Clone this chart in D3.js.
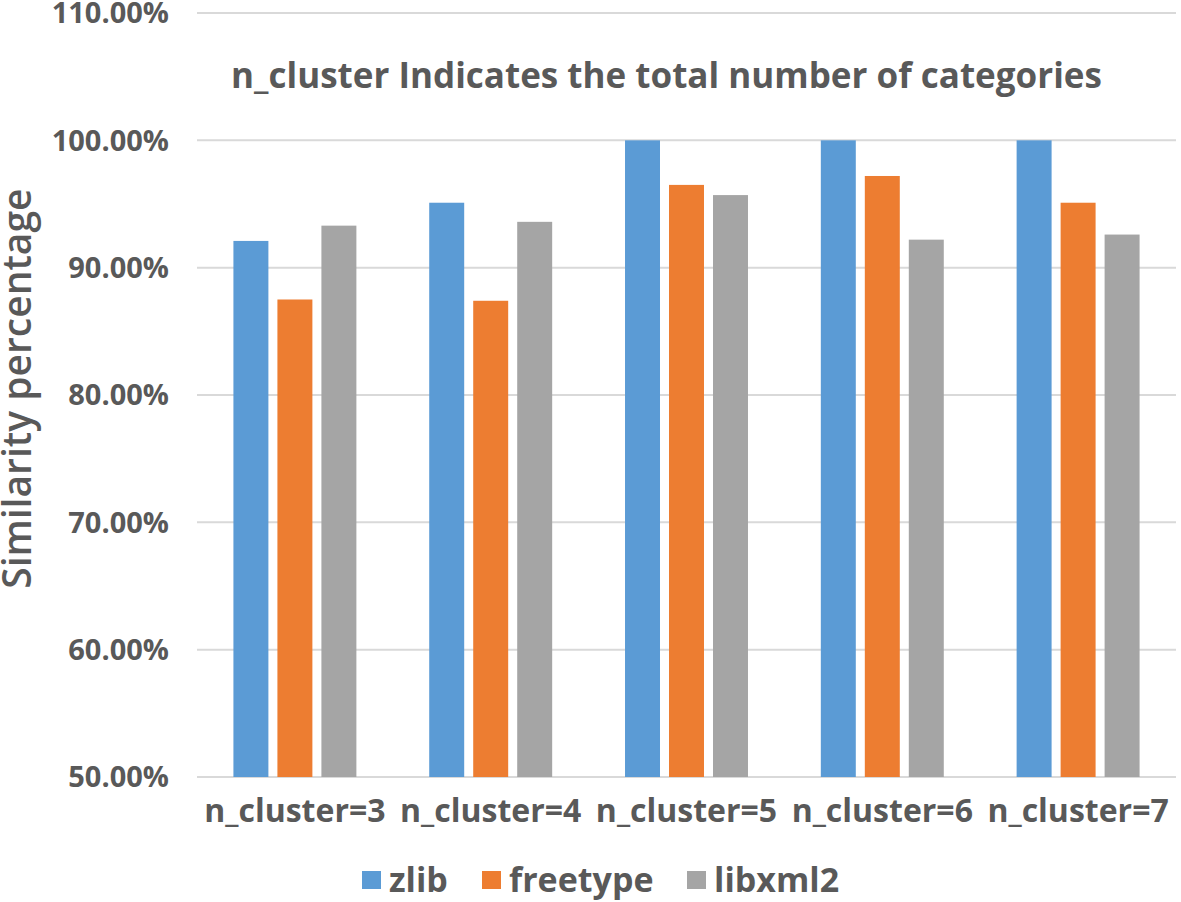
<!DOCTYPE html>
<html>
<head>
<meta charset="utf-8">
<script src="https://cdn.jsdelivr.net/npm/d3@7"></script>
<style>
  body { margin: 0; background: #fff; }
  svg text { font-family: "Open Sans", "Liberation Sans", Arial, sans-serif; fill: #595959; }
</style>
</head>
<body>
<svg id="chart"></svg>
<script>
// Chart data
var categories = ["n_cluster=3", "n_cluster=4", "n_cluster=5", "n_cluster=6", "n_cluster=7"];
var series = ["zlib", "freetype", "libxml2"];
var zlib = [92.1, 95.1, 100, 100, 100];
var freetype = [87.5, 87.4, 96.5, 97.2, 95.1];
var libxml2 = [93.3, 93.6, 95.7, 92.2, 92.6];
var yTicks = [50, 60, 70, 80, 90, 100, 110];
var colors = ["#5b9bd5", "#ed7d31", "#a5a5a5"];

var values = {zlib: zlib, freetype: freetype, libxml2: libxml2};

var W = 1181, H = 902;
var margin = {top: 13, right: 5, bottom: 125, left: 197};
var width = W - margin.left - margin.right;
var height = H - margin.top - margin.bottom;

var svg = d3.select("#chart")
    .attr("width", W)
    .attr("height", H)
  .append("g")
    .attr("transform", "translate(" + margin.left + "," + margin.top + ")");

// scales
var x0 = d3.scaleBand().domain(categories).range([0, width]).padding(0);
var x1 = d3.scaleBand().domain(series)
    .range([x0.bandwidth() * 0.186, x0.bandwidth() * 0.814])
    .paddingInner(0.205);
var y = d3.scaleLinear().domain([50, 110]).range([height, 0]);
var c = d3.scaleOrdinal().domain(series).range(colors);

// grid lines
svg.selectAll(".grid")
    .data(yTicks)
  .enter().append("line")
    .attr("class", "grid")
    .attr("x1", 0)
    .attr("x2", width)
    .attr("y1", function(d) { return y(d); })
    .attr("y2", function(d) { return y(d); })
    .attr("stroke", "#d9d9d9")
    .attr("stroke-width", 2);

// y tick labels
svg.selectAll(".ytick")
    .data(yTicks)
  .enter().append("text")
    .attr("class", "ytick")
    .attr("x", -28)
    .attr("y", function(d) { return y(d); })
    .attr("dy", ".36em")
    .attr("text-anchor", "end")
    .style("font-size", "29px")
    .style("font-weight", "bold")
    .text(function(d) { return d.toFixed(2) + "%"; });

// bars
var group = svg.selectAll(".group")
    .data(categories)
  .enter().append("g")
    .attr("class", "group")
    .attr("transform", function(d) { return "translate(" + x0(d) + ",0)"; });

group.selectAll("rect")
    .data(function(d, i) { return series.map(function(s) { return {key: s, value: values[s][i]}; }); })
  .enter().append("rect")
    .attr("x", function(d) { return x1(d.key); })
    .attr("width", x1.bandwidth())
    .attr("y", function(d) { return y(d.value); })
    .attr("height", function(d) { return y(50) - y(d.value); })
    .attr("fill", function(d) { return c(d.key); });

// x labels
svg.selectAll(".xlabel")
    .data(categories)
  .enter().append("text")
    .attr("class", "xlabel")
    .attr("x", function(d) { return x0(d) + x0.bandwidth() / 2; })
    .attr("y", height + 45)
    .attr("text-anchor", "middle")
    .style("font-size", "32px")
    .style("font-weight", "bold")
    .text(function(d) { return d; });

// title
svg.append("text")
    .attr("x", width / 2 - 20)
    .attr("y", 75)
    .attr("text-anchor", "middle")
    .style("font-size", "35px")
    .style("font-weight", "bold")
    .text("n_cluster Indicates the total number of categories");

// y axis title
svg.append("text")
    .attr("transform", "translate(" + (-166) + "," + y(80.5) + ")rotate(-90)")
    .attr("text-anchor", "middle")
    .style("font-size", "39px")
    .style("font-weight", "600")
    .text("Similarity percentage");

// legend
var legendX = [362, 482, 687];
var legend = svg.selectAll(".legend")
    .data(series)
  .enter().append("g")
    .attr("class", "legend")
    .attr("transform", function(d, i) { return "translate(" + (legendX[i] - margin.left) + "," + (height + 94) + ")"; });

legend.append("rect")
    .attr("width", 19)
    .attr("height", 18)
    .attr("fill", function(d) { return c(d); });

legend.append("text")
    .attr("x", 27)
    .attr("y", 9)
    .attr("dy", ".36em")
    .style("font-size", "34px")
    .style("font-weight", "bold")
    .text(function(d) { return d; });
</script>
</body>
</html>
